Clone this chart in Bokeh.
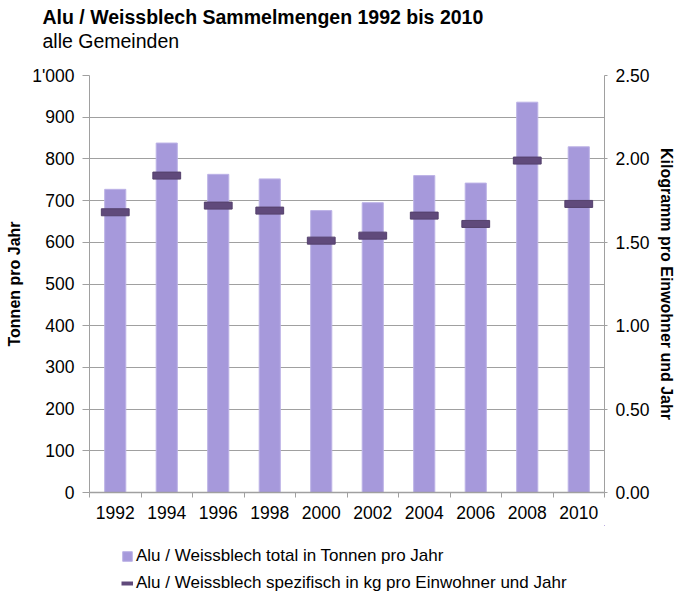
from bokeh.plotting import figure
from bokeh.layouts import column
from bokeh.models import (Range1d, LinearAxis, FixedTicker, Title, Legend, LegendItem,
                          ColumnDataSource, NumeralTickFormatter)
from bokeh.embed import file_html
from bokeh.resources import INLINE

# ---- data ----
years = ["1992", "1994", "1996", "1998", "2000", "2002", "2004", "2006", "2008", "2010"]
tonnen = [727, 838, 763, 752, 676, 695, 760, 742, 936, 829]
kg_pro_einwohner = [1.68, 1.90, 1.72, 1.69, 1.51, 1.54, 1.66, 1.61, 1.99, 1.73]

left_ticks = [0, 100, 200, 300, 400, 500, 600, 700, 800, 900, 1000]
left_tick_labels = ["0", "100", "200", "300", "400", "500", "600", "700", "800", "900", "1'000"]
right_ticks = [0.0, 0.5, 1.0, 1.5, 2.0, 2.5]

title_text = "Alu / Weissblech Sammelmengen 1992 bis 2010"
subtitle_text = "alle Gemeinden"
left_label = "Tonnen pro Jahr"
right_label = "Kilogramm pro Einwohner und Jahr"
legend_total = "Alu / Weissblech total in Tonnen pro Jahr"
legend_spez = "Alu / Weissblech spezifisch in kg pro Einwohner und Jahr"

FONT = "Liberation Sans"
BAR = "#A699DB"
BAR_EDGE = "#BCB2E6"
MARK = "#604A7B"
MARK_EDGE = "#54416C"
GRID = "#A0A0A0"
TICK_FS = "17.5px"

x = [i + 0.5 for i in range(len(years))]
source = ColumnDataSource(dict(x=x, year=years, tonnen=tonnen, kg=kg_pro_einwohner))

W = 677
H1 = 525
H2 = 68

p = figure(width=W, height=H1, output_backend="svg", toolbar_location=None,
           x_range=Range1d(0, len(years)), y_range=Range1d(left_ticks[0], left_ticks[-1]),
           min_border_left=89, min_border_right=73, min_border_top=75, min_border_bottom=33)
p.extra_y_ranges = {"kg": Range1d(right_ticks[0], right_ticks[-1])}
p.outline_line_color = None
p.background_fill_color = "white"
p.border_fill_color = "white"

# titles: p.title is outermost; added titles stack towards the frame
p.title.text = title_text
p.title.text_font = FONT
p.title.text_font_size = "19.5px"
p.title.text_font_style = "bold"
p.title.text_color = "black"
p.title.align = "left"
p.title.offset = -47
p.title.standoff = 0
spacer = Title(text=" ", text_font=FONT, text_font_size="10px", standoff=11)
p.add_layout(spacer, "above")
sub_title = Title(text=subtitle_text, text_font=FONT, text_font_size="19.5px",
                  text_font_style="normal", text_color="black", align="left",
                  offset=-47, standoff=0)
p.add_layout(sub_title, "above")

# grid
p.xgrid.grid_line_color = None
p.ygrid.grid_line_color = GRID
p.ygrid.grid_line_width = 1

# x axis
xa = p.xaxis[0]
xa.ticker = FixedTicker(ticks=x, minor_ticks=list(range(len(years) + 1)))
xa.major_label_overrides = {xi: y for xi, y in zip(x, years)}
xa.major_tick_out = 0
xa.major_tick_in = 0
xa.minor_tick_out = 5
xa.minor_tick_in = 0
xa.minor_tick_line_color = GRID
xa.axis_line_color = GRID
xa.axis_line_width = 1.5
xa.major_label_standoff = 8
xa.major_label_text_font = FONT
xa.major_label_text_font_size = TICK_FS
xa.major_label_text_color = "black"

# left y axis
ya = p.yaxis[0]
ya.ticker = FixedTicker(ticks=left_ticks)
ya.major_label_overrides = {t: l for t, l in zip(left_ticks, left_tick_labels)}
ya.major_tick_out = 7
ya.major_tick_in = 0
ya.minor_tick_out = 0
ya.minor_tick_in = 0
ya.major_tick_line_color = GRID
ya.axis_line_color = GRID
ya.major_label_standoff = 8
ya.major_label_text_font = FONT
ya.major_label_text_font_size = TICK_FS
ya.major_label_text_color = "black"
ya.axis_label = left_label
ya.axis_label_text_font = FONT
ya.axis_label_text_font_size = "16px"
ya.axis_label_text_font_style = "bold"
ya.axis_label_text_color = "black"
ya.axis_label_standoff = 6

# right y axis
ra = LinearAxis(y_range_name="kg", ticker=FixedTicker(ticks=right_ticks),
                formatter=NumeralTickFormatter(format="0.00"))
ra.major_tick_out = 3
ra.major_tick_in = 0
ra.minor_tick_out = 0
ra.minor_tick_in = 0
ra.major_tick_line_color = GRID
ra.axis_line_color = GRID
ra.major_label_standoff = 8
ra.major_label_text_font = FONT
ra.major_label_text_font_size = TICK_FS
ra.major_label_text_color = "black"
ra.axis_label = right_label
ra.axis_label_text_font = FONT
ra.axis_label_text_font_size = "16px"
ra.axis_label_text_font_style = "bold"
ra.axis_label_text_color = "black"
ra.axis_label_standoff = 5
p.add_layout(ra, "right")

# glyphs
bars = p.vbar(x="x", top="tonnen", width=0.41, source=source,
              fill_color=BAR, line_color=BAR_EDGE, line_width=1)
marks = p.rect(x="x", y="kg", width=0.54, height=7, height_units="screen",
               y_range_name="kg", source=source,
               fill_color=MARK, line_color=MARK_EDGE, line_width=1)

# legend strip below the chart (its frame is aligned with the chart's frame);
# key renderers use the same data but lie outside this strip's visible ranges
p2 = figure(width=W, height=H2, output_backend="svg", toolbar_location=None,
            x_range=Range1d(-20, -19), y_range=Range1d(-20, -19),
            x_axis_location=None, y_axis_location=None, min_border=0)
p2.grid.visible = False
p2.outline_line_color = None
p2.background_fill_color = "white"
p2.border_fill_color = "white"
bar_key = p2.vbar(x="x", top="tonnen", width=0.41, source=source,
                  fill_color=BAR, line_color=BAR_EDGE, line_width=1)
mark_key = p2.line(x="x", y="kg", source=source, line_color=MARK, line_width=4)
legend = Legend(items=[LegendItem(label=legend_total, renderers=[bar_key]),
                       LegendItem(label=legend_spez, renderers=[mark_key])],
                location=(32, 0), orientation="vertical",
                glyph_width=12, glyph_height=12, label_height=12, spacing=7,
                padding=0, margin=0, border_line_color=None,
                background_fill_alpha=0, label_standoff=3,
                label_text_font=FONT, label_text_font_size="17px",
                label_text_color="black")
p2.add_layout(legend, "center")

layout = column(p, p2, spacing=0)
open("out.html", "w").write(file_html(layout, INLINE))
